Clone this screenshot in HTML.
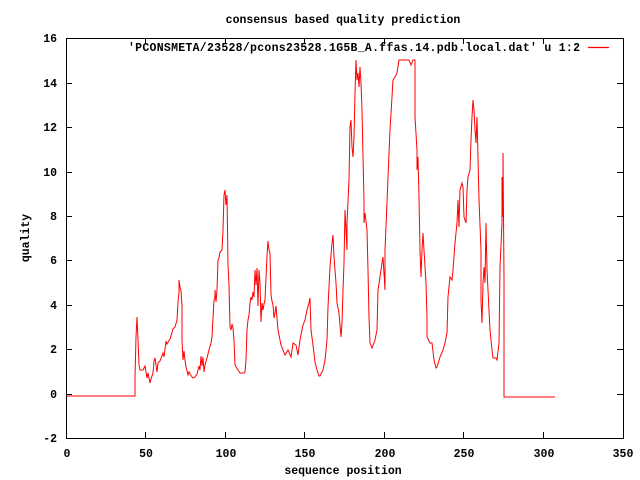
<!DOCTYPE html>
<html><head><meta charset="utf-8"><style>
html,body{margin:0;padding:0;background:#fff;}
svg{display:block;}
text{font-family:"Liberation Mono",monospace;font-size:11.5px;font-weight:bold;fill:#000;}
</style></head><body>
<svg width="640" height="480" viewBox="0 0 640 480">
<rect x="66.5" y="38.5" width="557" height="400" fill="none" stroke="#000" stroke-width="1"/>
<g stroke="#000" stroke-width="1">
<path d="M66 438.5h6M623 438.5h-6M66 394.5h6M623 394.5h-6M66 349.5h6M623 349.5h-6M66 305.5h6M623 305.5h-6M66 260.5h6M623 260.5h-6M66 216.5h6M623 216.5h-6M66 172.5h6M623 172.5h-6M66 127.5h6M623 127.5h-6M66 83.5h6M623 83.5h-6M66 38.5h6M623 38.5h-6"/>
<path d="M66.5 438v-6M66.5 38v6M145.5 438v-6M145.5 38v6M225.5 438v-6M225.5 38v6M304.5 438v-6M304.5 38v6M384.5 438v-6M384.5 38v6M463.5 438v-6M463.5 38v6M543.5 438v-6M543.5 38v6M623.5 438v-6M623.5 38v6"/>
</g>
<g text-anchor="end">
<text x="57" y="442">-2</text><text x="57" y="398">0</text><text x="57" y="353">2</text><text x="57" y="309">4</text><text x="57" y="264">6</text><text x="57" y="220">8</text><text x="57" y="176">10</text><text x="57" y="131">12</text><text x="57" y="87">14</text><text x="57" y="42">16</text>
</g>
<g text-anchor="middle">
<text x="67" y="457">0</text><text x="146" y="457">50</text><text x="226" y="457">100</text><text x="305" y="457">150</text><text x="385" y="457">200</text><text x="464" y="457">250</text><text x="544" y="457">300</text><text x="623" y="457">350</text>
<text x="343" y="23">consensus based quality prediction</text>
<text x="343" y="474">sequence position</text>
<text x="0" y="0" transform="translate(29,238) rotate(-90)">quality</text>
</g>
<text x="128" y="51" textLength="452" lengthAdjust="spacing">'PCONSMETA/23528/pcons23528.1G5B_A.ffas.14.pdb.local.dat' u 1:2</text>
<line x1="588" y1="47.5" x2="609" y2="47.5" stroke="#f00" stroke-width="1.2"/>
<polyline fill="none" stroke="#f00" stroke-width="1" points="67,396 135,396 135,377 136,337 137,317 138,340 139,365 140,370 143,370 145,366 146,372 147,378 148,373 150,383 151,379 153,373 154,361 155,358 156,365 157,372 158,363 160,361 163,353 164,357 166,341 167,344 170,339 173,329 175,327 177,320 178,302 179,293 179,280 180,287 181,291 182,305 182,340 183,360 184,351 185,360 186,367 188,375 189,372 192,377 193,378 195,377 197,374 199,366 200,370 201,356 202,366 203,357 204,372 205,365 207,358 209,350 211,343 212,337 213,318 214,300 215,297 215,290 216,302 217,290 218,260 219,258 220,252 222,250 223,230 224,195 225,190 226,205 227,195 228,265 229,285 230,327 231,330 232,324 233,328 234,340 235,365 236,367 238,370 240,373 244,373 245,372 246,360 247,330 248,320 249,315 250,303 251,297 252,300 253,292 254,297 255,270 256,285 257,268 258,306 259,270 260,283 261,322 262,303 263,310 264,304 265,300 266,278 267,256 268,241 269,250 270,253 271,295 272,301 273,305 274,318 275,313 276,306 278,330 281,345 285,355 288,350 291,357 293,343 296,345 298,355 300,340 303,325 305,320 307,310 309,303 310,298 311,330 313,345 315,362 317,370 319,376 320,376 323,370 325,360 327,340 328,307 330,267 332,243 333,235 334,257 336,283 337,303 339,313 341,337 342,323 343,290 344,263 345,210 347,250 347,223 349,180 350,127 351,120 352,147 353,157 354,137 355,93 356,60 357,80 358,73 359,87 360,67 361,83 362,110 363,157 364,200 364,223 365,213 367,230 368,270 369,317 370,343 372,348 375,340 377,330 378,290 380,277 382,263 383,257 385,290 385,250 387,203 388,177 390,130 392,97 393,80 395,77 397,73 399,60 409,60 411,65 413,60 415,60 415,117 417,150 417,170 418,157 419,197 420,250 421,277 422,250 423,233 424,250 426,283 427,317 427,337 430,343 432,343 434,360 436,368 437,367 440,357 443,350 445,343 447,333 448,297 450,277 452,280 453,270 455,243 457,223 458,200 459,227 460,190 462,183 463,187 464,217 466,223 467,190 468,177 470,170 471,140 472,117 473,100 474,110 475,130 476,143 477,117 478,157 479,200 481,250 481,300 482,323 483,283 484,267 485,283 486,223 487,270 489,310 490,330 492,350 493,358 496,358 497,360 499,343 500,267 502,223 502,177 503,217 503,153 504,277 504,397 555,397"/>
</svg>
</body></html>
